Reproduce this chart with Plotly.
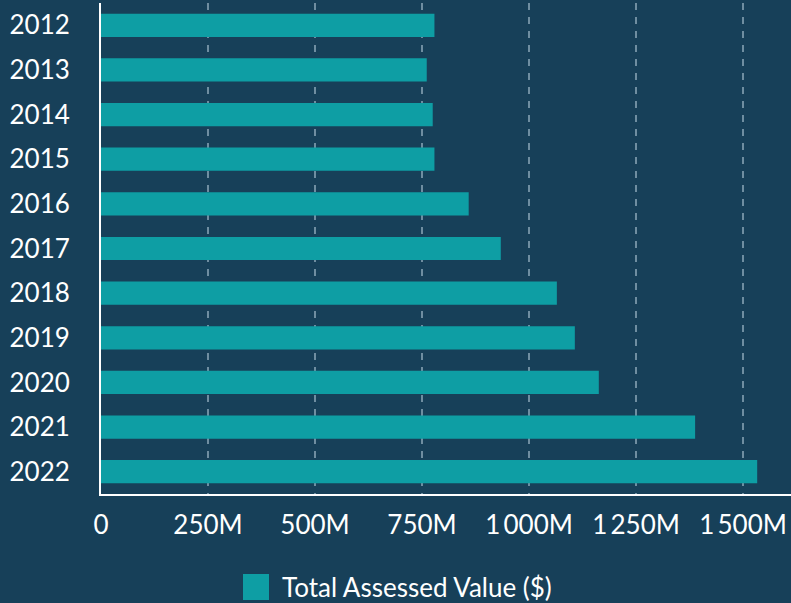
import plotly.graph_objects as go

years = ["2012", "2013", "2014", "2015", "2016", "2017", "2018", "2019", "2020", "2021", "2022"]
assessed_value = [779e6, 761e6, 775e6, 779e6, 859e6, 934e6, 1065e6, 1107e6, 1163e6, 1388e6, 1533e6]
tick_values = [0, 250e6, 500e6, 750e6, 1000e6, 1250e6, 1500e6]
tick_labels = ["0", "250M", "500M", "750M", "1\u2009000M", "1\u2009250M", "1\u2009500M"]
series_name = "Total Assessed Value ($)"

BG = "#174059"
BAR = "#0e9ea4"
FONT = dict(family="Lato", color="white", size=26, weight=400)

fig = go.Figure(
    go.Bar(
        x=assessed_value,
        y=years,
        orientation="h",
        name=series_name,
        showlegend=False,
        marker=dict(color=BAR, line=dict(width=0)),
    )
)

# Legend swatch and label drawn below the plot area
fig.add_shape(
    type="rect", xref="paper", yref="paper",
    x0=142 / 690, x1=168 / 690, y0=-106 / 491, y1=-80 / 491,
    fillcolor=BAR, line=dict(width=0),
)
fig.add_annotation(
    text=series_name, xref="paper", yref="paper",
    x=179 / 690, y=-93 / 491, xanchor="left", yanchor="middle",
    showarrow=False, font=FONT,
)

fig.update_layout(
    width=791,
    height=603,
    paper_bgcolor=BG,
    plot_bgcolor=BG,
    margin=dict(l=101, r=0, t=3, b=109),
    bargap=0.48,
    font=FONT,
    showlegend=False,
)

fig.update_xaxes(
    range=[0, 1612e6],
    tickvals=tick_values,
    ticktext=tick_labels,
    showgrid=True,
    gridcolor="#6f8ea1",
    griddash="7px,7px",
    gridwidth=1.5,
    showline=True,
    linecolor="white",
    linewidth=2,
    zeroline=False,
    ticks="",
    ticklabelstandoff=7,
    tickfont=FONT,
)

fig.update_yaxes(
    type="category",
    autorange="reversed",
    showgrid=False,
    showline=True,
    linecolor="white",
    linewidth=2,
    ticks="",
    ticklabelstandoff=24,
    tickfont=FONT,
)

fig.write_html("out.html")
